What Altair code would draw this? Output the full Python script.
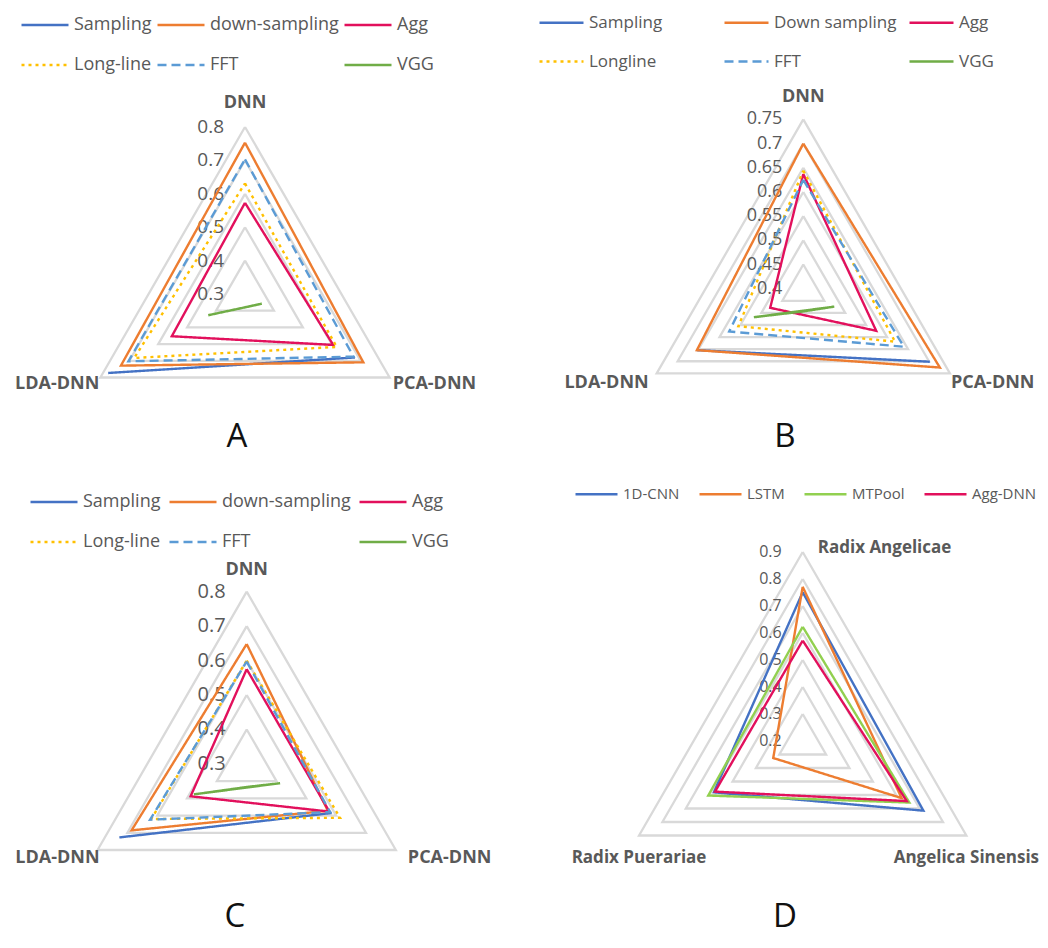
import altair as alt
import pandas as pd

FONT = "Open Sans"
GRID = "#D9D9D9"
TXT = "#595959"
W, H = 516, 466

# ---------------- data ----------------
# Panel A
a_cats = ["DNN", "PCA-DNN", "LDA-DNN"]
a_names = ["Sampling", "down-sampling", "Agg", "Long-line", "FFT", "VGG"]
a_sampling = [None, 0.680, 0.773]
a_down = [0.753, 0.709, 0.729]
a_agg = [0.573, 0.605, 0.553]
a_long = [0.631, 0.617, 0.683]
a_fft = [0.703, 0.675, 0.703]
a_vgg = [0.260, 0.358, 0.427]
a_ticks = [0.3, 0.4, 0.5, 0.6, 0.7, 0.8]

# Panel B
b_cats = ["DNN", "PCA-DNN", "LDA-DNN"]
b_names = ["Sampling", "Down sampling", "Agg", "Longline", "FFT", "VGG"]
b_sampling = [None, 0.702, 0.654]
b_down = [0.700, 0.726, 0.654]
b_agg = [0.637, 0.574, 0.479]
b_long = [0.644, 0.619, 0.555]
b_fft = [0.625, 0.640, 0.577]
b_vgg = [0.353, 0.474, 0.518]
b_ticks = [0.4, 0.45, 0.5, 0.55, 0.6, 0.65, 0.7, 0.75]

# Panel C
c_cats = ["DNN", "PCA-DNN", "LDA-DNN"]
c_names = ["Sampling", "down-sampling", "Agg", "Long-line", "FFT", "VGG"]
c_sampling = [None, 0.585, 0.727]
c_down = [0.648, 0.572, 0.686]
c_agg = [0.575, 0.577, 0.488]
c_long = [0.600, 0.613, 0.620]
c_fft = [0.597, 0.580, 0.624]
c_vgg = [0.233, 0.412, 0.477]
c_ticks = [0.3, 0.4, 0.5, 0.6, 0.7, 0.8]

# Panel D
d_cats = ["Radix Angelicae", "Angelica Sinensis", "Radix Puerariae"]
d_names = ["1D-CNN", "LSTM", "MTPool", "Agg-DNN"]
d_cnn = [0.751, 0.716, 0.580]
d_lstm = [0.771, 0.623, 0.326]
d_mtpool = [0.623, 0.656, 0.604]
d_agg = [0.572, 0.645, 0.575]
d_ticks = [0.2, 0.3, 0.4, 0.5, 0.6, 0.7, 0.8, 0.9]

C6 = ["#4472C4", "#ED7D31", "#E2105C", "#FFC000", "#5B9BD5", "#70AD47"]
D6 = [[1, 0], [1, 0], [1, 0], [3, 4], [9, 5], [1, 0]]
C4 = ["#4472C4", "#ED7D31", "#92D050", "#E2105C"]
D4 = [[1, 0], [1, 0], [1, 0], [1, 0]]


def radar_panel(cats, names, vals, colors, dashes, ticks, cx, cy, R,
                tick_fs, cat_fs, lab_off, leg, letter, letter_xy):
    vmin, vmax = ticks[0], ticks[-1]
    span = vmax - vmin
    xs = alt.Scale(domain=[-cx / R, (W - cx) / R], nice=False, zero=False)
    ys = alt.Scale(domain=[-(H - cy) / R, cy / R], nice=False, zero=False)
    X = lambda f: alt.X(f, scale=xs, axis=None)
    Y = lambda f: alt.Y(f, scale=ys, axis=None)
    polar = dict(r=f"(datum.v - {vmin}) / {span}", a="datum.k * 2 * PI / 3")
    xy = dict(px="datum.r * sin(datum.a)", py="datum.r * cos(datum.a)")

    grid_df = pd.DataFrame([{"level": t, "k": k, "v": t}
                            for t in ticks[1:] for k in range(4)])
    grid = alt.Chart(grid_df).transform_calculate(**polar).transform_calculate(**xy).mark_line(
        color=GRID, strokeWidth=2.3
    ).encode(x=X("px:Q"), y=Y("py:Q"), detail="level:N", order="k:Q")

    tick_df = pd.DataFrame({"v": ticks, "k": 0, "lab": [f"{t:g}" for t in ticks]})
    tick_txt = alt.Chart(tick_df).transform_calculate(**polar).transform_calculate(**xy).mark_text(
        align="right", baseline="middle", dx=-21, font=FONT, fontSize=tick_fs, color=TXT
    ).encode(x=X("px:Q"), y=Y("py:Q"), text="lab:N")

    rows = []
    for name, v in zip(names, vals):
        for k in range(4):
            rows.append({"series": name, "k": k, "v": v[k % 3]})
    sdf = pd.DataFrame(rows)
    legend = alt.Legend(
        orient="none", legendX=leg["x"], legendY=leg["y"], title=None,
        columns=leg["cols"], direction="horizontal", symbolType="stroke",
        symbolSize=leg["sym"] ** 2, symbolStrokeWidth=2.5, labelFont=FONT,
        labelFontSize=leg["fs"], labelColor=TXT, labelOffset=4,
        gridAlign=leg["align"], columnPadding=leg["cp"], rowPadding=leg["rp"],
        labelLimit=300, padding=0,
    )
    series = alt.Chart(sdf).transform_filter("isValid(datum.v)").transform_calculate(
        **polar).transform_calculate(**xy).mark_line(strokeWidth=2.4).encode(
        x=X("px:Q"), y=Y("py:Q"), order="k:Q",
        color=alt.Color("series:N", scale=alt.Scale(domain=names, range=colors), legend=legend),
        strokeDash=alt.StrokeDash("series:N", scale=alt.Scale(domain=names, range=dashes), legend=legend),
    )

    cat_df = pd.DataFrame({"cat": cats, "k": [0, 1, 2], "v": vmax})
    cat_layers = []
    for i, (al, dx, dy) in enumerate(lab_off):
        cat_layers.append(
            alt.Chart(cat_df).transform_filter(f"datum.k == {i}").transform_calculate(
                **polar).transform_calculate(**xy).mark_text(
                align=al, baseline="middle", dx=dx, dy=dy, font=FONT,
                fontSize=cat_fs, fontWeight="bold", color=TXT
            ).encode(x=X("px:Q"), y=Y("py:Q"), text="cat:N")
        )

    let = alt.Chart(pd.DataFrame({"t": [letter]})).mark_text(
        font=FONT, fontSize=33, color="#111111", align="center", baseline="middle"
    ).encode(text="t:N", x=alt.value(letter_xy[0]), y=alt.value(letter_xy[1]))

    return alt.layer(grid, tick_txt, series, *cat_layers, let).properties(width=W, height=H)


pA = radar_panel(
    a_cats, a_names, [a_sampling, a_down, a_agg, a_long, a_fft, a_vgg], C6, D6, a_ticks,
    237, 286, 167, 19, 18,
    [("center", 0, -24), ("left", 3, 6), ("right", -1, 6)],
    dict(x=12, y=-8, cols=3, sym=47, fs=18, align="each", cp=0, rp=6), "A", (229, 429),
)
pB = radar_panel(
    b_cats, b_names, [b_sampling, b_down, b_agg, b_long, b_fft, b_vgg], C6, D6, b_ticks,
    279.3, 280.7, 169.3, 18, 18,
    [("center", 0, -22), ("left", 1, 10), ("right", -8, 10)],
    dict(x=14, y=-9, cols=3, sym=44, fs=17, align="all", cp=7, rp=7), "B", (261, 429),
)
pC = radar_panel(
    c_cats, c_names, [c_sampling, c_down, c_agg, c_long, c_fft, c_vgg], C6, D6, c_ticks,
    238.7, 289.9, 172.2, 20, 18,
    [("center", 0, -22), ("left", 12, 8), ("right", 2, 8)],
    dict(x=21, y=3, cols=3, sym=47, fs=18, align="each", cp=3, rp=6), "C", (227, 443),
)
pD = radar_panel(
    d_cats, d_names, [d_cnn, d_lstm, d_mtpool, d_agg], C4, D4, d_ticks,
    278.7, 267, 189, 16, 17,
    [("left", 15, -4), ("center", 0, 22), ("center", 0, 22)],
    dict(x=50, y=-2.5, cols=4, sym=42, fs=15, align="each", cp=14, rp=0), "D", (261, 443),
)

res = dict(x="independent", y="independent", color="independent", strokeDash="independent")
chart = alt.concat(pA, pB, pC, pD, columns=2, spacing=0, bounds="flush").resolve_scale(
    **res).resolve_legend(color="independent", strokeDash="independent").properties(
    padding=0, background="white").configure_view(stroke=None, clip=True)

chart.save("out.html", embed_options={"renderer": "svg", "actions": False})
